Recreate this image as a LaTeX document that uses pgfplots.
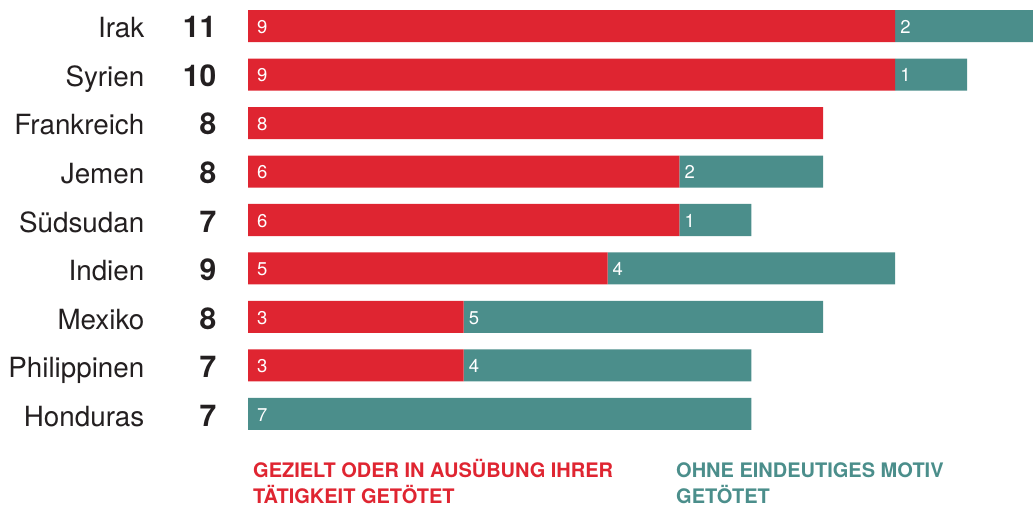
\documentclass[border=0pt]{standalone}
\usepackage{pgfplots}
\pgfplotsset{compat=1.18}
\usepackage{fontspec}
\setmainfont{TeX Gyre Heros}
\definecolor{cred}{RGB}{223,37,49}
\definecolor{cteal}{RGB}{75,142,139}
\definecolor{ctext}{RGB}{35,31,32}
\begin{document}
\begin{tikzpicture}
\useasboundingbox (0pt,0pt) rectangle (1033pt,-508pt);
\begin{axis}[at={(248pt,-1.75pt)}, anchor=north west, scale only axis,
  width=785pt, height=436.5pt, xmin=0, xmax=10.918, ymin=-0.5, ymax=8.5,
  y dir=reverse, xbar stacked, bar width=32pt, hide axis,
  clip mode=individual]
\addplot[fill=cred, draw=none] coordinates {(9,0) (9,1) (8,2) (6,3) (6,4) (5,5) (3,6) (3,7) (0,8)};
\addplot[fill=cteal, draw=none] coordinates {(2,0) (1,1) (0,2) (2,3) (1,4) (4,5) (5,6) (4,7) (7,8)};
\end{axis}
% segment labels (start of segment, value, row)
\foreach \s/\v/\r in {0/9/0,0/9/1,0/8/2,0/6/3,0/6/4,0/5/5,0/3/6,0/3/7,0/7/8}{
  \node[anchor=base west, inner sep=0pt, text=white, font=\fontsize{18.5}{20}\selectfont]
    at ({(248+71.9*\s+9)*1pt},{-(26+48.5*\r)*1pt-7.2pt}) {\v};
}
\foreach \s/\v/\r in {9/2/0,9/1/1,6/2/3,6/1/4,5/4/5,3/5/6,3/4/7}{
  \node[anchor=base west, inner sep=0pt, text=white, font=\fontsize{18.5}{20}\selectfont]
    at ({(248+71.9*\s+5)*1pt},{-(26+48.5*\r)*1pt-7.2pt}) {\v};
}
% country names and totals
\foreach \n/\t [count=\i from 0] in {Irak/11,Syrien/10,Frankreich/8,Jemen/8,Südsudan/7,Indien/9,Mexiko/8,Philippinen/7,Honduras/7}{
  \node[anchor=base east, inner sep=0pt, text=ctext, font=\fontsize{27.8}{30}\selectfont] at (144.5pt,{-(26+48.5*\i)*1pt-12pt}) {\n};
  \node[anchor=base east, inner sep=0pt, text=ctext, font=\fontsize{30}{32}\selectfont\bfseries] at (216.5pt,{-(26+48.5*\i)*1pt-12pt}) {\t};
}
% legend
\node[anchor=base west, inner sep=0pt, text=cred, font=\fontsize{20}{26}\selectfont\bfseries, align=left] at (253pt,-503pt) {GEZIELT ODER IN AUSÜBUNG IHRER\\TÄTIGKEIT GETÖTET};
\node[anchor=base west, inner sep=0pt, text=cteal, font=\fontsize{20}{26}\selectfont\bfseries, align=left] at (676pt,-503pt) {OHNE EINDEUTIGES MOTIV\\GETÖTET};
\end{tikzpicture}
\end{document}
